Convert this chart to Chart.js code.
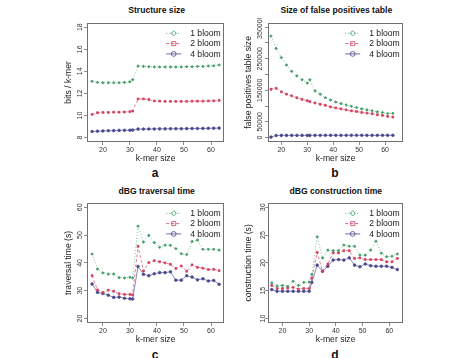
<!DOCTYPE html>
<html><head><meta charset="utf-8">
<script src="https://cdn.jsdelivr.net/npm/chart.js@4/dist/chart.umd.min.js"></script>
<style>
body{margin:0;background:#fff;width:475px;height:358px;overflow:hidden;position:relative;font-family:"Liberation Sans",Arial,sans-serif;}
canvas{position:absolute;}
.ttl{position:absolute;transform:translate(-50%,-50%);font-weight:bold;font-size:8.6px;white-space:nowrap;color:#111;line-height:1;}
.lt{position:absolute;transform:translate(-50%,-50%);font-weight:bold;font-size:12px;color:#111;line-height:1;}
</style></head><body>
<script>
// ---------------- data ----------------
const kmerSizes = [16,18,20,22,24,26,28,30,31,33,35,37,39,41,43,45,47,49,51,53,55,57,59,61,63];
const seriesNames = ['1 bloom','2 bloom','4 bloom'];
const xTickValues = [20,30,40,50,60];

const sizeBloom1 = [13.1,13.0,12.97,12.97,12.97,12.97,13.0,13.05,13.25,14.48,14.45,14.42,14.4,14.4,14.4,14.4,14.4,14.4,14.42,14.42,14.45,14.45,14.48,14.5,14.58];
const sizeBloom2 = [10.1,10.25,10.28,10.28,10.3,10.3,10.32,10.35,10.4,11.5,11.5,11.45,11.32,11.3,11.28,11.28,11.28,11.28,11.28,11.3,11.3,11.3,11.32,11.33,11.37];
const sizeBloom4 = [8.55,8.58,8.6,8.62,8.63,8.65,8.66,8.67,8.68,8.77,8.77,8.78,8.78,8.79,8.79,8.8,8.8,8.8,8.81,8.82,8.82,8.83,8.84,8.85,8.86];
const sizeTicks = [8,10,12,14,16,18];

const fpBloom1 = [322000,282700,253700,229900,210200,195700,183300,172900,183300,148100,137700,126300,119100,112900,107700,103500,99400,95300,91100,88000,84900,81800,79700,76500,77000];
const fpBloom2 = [153300,156400,145000,137700,132500,126300,121200,117000,113900,109800,105600,102500,97300,94200,91100,88000,84900,82800,79700,77700,75600,72500,70400,67300,65200];
const fpBloom4 = [1500,6500,7000,7000,7000,7000,7000,7000,7000,7200,7200,7200,7200,7200,7200,7200,7200,7200,7200,7200,7200,7200,7200,7200,7200];
const fpTicks = [0,50000,100000,150000,200000,250000,300000,350000];
const fpTickLabels = ['0','50000','','150000','','250000','','350000'];

const travBloom1 = [43.2,37.8,36.4,36.0,36.0,34.7,34.6,34.85,34.6,53.2,47.5,49.9,47.3,45.6,46.4,46.3,45.1,43.3,43.0,47.7,48.2,44.9,44.9,44.9,44.6];
const travBloom2 = [35.4,30.3,29.4,30.2,29.8,28.9,28.7,28.7,28.5,46.0,37.1,40.1,40.8,40.4,40.0,39.5,38.0,38.9,37.0,39.3,38.4,38.1,37.6,37.7,37.2];
const travBloom4 = [32.4,29.4,29.0,28.4,27.6,27.7,27.3,27.1,27.0,38.7,35.9,35.4,36.1,36.5,36.5,36.8,33.8,33.8,35.4,34.9,33.9,34.3,33.5,33.7,32.3];
const travTicks = [20,30,40,50,60];

const consBloom1 = [16.4,15.85,15.96,15.8,16.7,15.96,16.5,16.55,17.95,24.7,20.9,22.3,22.2,22.2,23.2,23.0,23.0,21.4,21.4,22.3,23.9,21.75,21.1,21.2,21.6];
const consBloom2 = [15.96,15.4,15.4,15.5,15.6,15.3,15.4,15.4,17.25,21.9,18.5,19.8,21.8,21.8,22.2,22.2,20.8,20.9,20.6,20.6,20.6,20.6,20.2,20.2,20.8];
const consBloom4 = [15.2,14.9,14.9,14.9,14.9,14.9,14.9,14.9,16.5,19.6,18.5,19.4,20.5,20.6,20.5,20.9,19.6,19.3,19.8,19.5,19.4,19.4,19.4,19.2,18.8];
const consTicks = [10,15,20,25,30];

// ---------------- styling / layout ----------------
const FONT = '"Liberation Sans", Arial, sans-serif';
const colors = ['#3f9a62','#d0405e','#484890'];
const lineColors = ['rgba(63,154,98,0.85)','rgba(208,64,94,0.85)','rgba(72,72,144,0.85)'];
const dashes = [[1,2],[3,2],[]];
const pStyles = ['rectRot','rect','circle'];

const panels = [
  {letter:'a', title:'Structure size', yTitle:'bits / k-mer', series:[sizeBloom1,sizeBloom2,sizeBloom4], yTicks:sizeTicks, yLabels:null, ylim:[8,18],
   box:{l:87,t:20,r:226,b:142}, xlim:[14.12,64.88], yGap:7.3, yTitleX:68.3, titlePos:[156.7,10], letterPos:[155,173]},
  {letter:'b', title:'Size of false positives table', yTitle:'false positives table size', series:[fpBloom1,fpBloom2,fpBloom4], yTicks:fpTicks, yLabels:fpTickLabels, ylim:[0,350000],
   box:{l:268,t:20,r:405,b:142}, xlim:[14.86,67.0], yGap:7.5, yTitleX:248.3, titlePos:[336.3,10], letterPos:[335,173]},
  {letter:'c', title:'dBG traversal time', yTitle:'traversal time (s)', series:[travBloom1,travBloom2,travBloom4], yTicks:travTicks, yLabels:null, ylim:[20,60],
   box:{l:87,t:200,r:226,b:323}, xlim:[14.12,64.88], yGap:7.3, yTitleX:68.3, titlePos:[156.7,191], letterPos:[155,355]},
  {letter:'d', title:'dBG construction time', yTitle:'construction time (s)', series:[consBloom1,consBloom2,consBloom4], yTicks:consTicks, yLabels:null, ylim:[10,30],
   box:{l:268,t:200,r:405,b:323}, xlim:[14.6,65.2], yGap:5, yTitleX:248.3, titlePos:[335.8,191], letterPos:[335,355]}
];

const measureCtx = document.createElement('canvas').getContext('2d');
function textW(s, size){ measureCtx.font = size + 'px ' + FONT; return measureCtx.measureText(s).width; }

function drawMarker(ctx, style, x, y, r){
  ctx.beginPath();
  if(style==='circle'){ ctx.arc(x,y,r,0,Math.PI*2); }
  else if(style==='rect'){ ctx.rect(x-r*0.85,y-r*0.85,r*1.7,r*1.7); }
  else { ctx.moveTo(x,y-r*1.1); ctx.lineTo(x+r*1.1,y); ctx.lineTo(x,y+r*1.1); ctx.lineTo(x-r*1.1,y); ctx.closePath(); }
  ctx.stroke();
}

const boxPlugin = {
  id:'rbox',
  afterDraw(chart){
    const {ctx, chartArea:a} = chart;
    ctx.save();
    ctx.strokeStyle = '#707070'; ctx.lineWidth = 1;
    ctx.strokeRect(Math.round(a.left)+0.5, Math.round(a.top)+0.5, Math.round(a.right-a.left)-1, Math.round(a.bottom-a.top)-1);
    ctx.restore();
  }
};

const legendPlugin = {
  id:'rlegend',
  afterDraw(chart){
    const {ctx, chartArea:a} = chart;
    chart.data.datasets.forEach((ds,i)=>{
      const y = a.top + 10.5 + i*10.3;
      const x0 = a.right - 58, x1 = a.right - 43;
      ctx.save();
      ctx.strokeStyle = ds.pointBorderColor; ctx.lineWidth = 0.8;
      ctx.setLineDash(ds.borderDash);
      ctx.beginPath(); ctx.moveTo(x0,y); ctx.lineTo(x1,y); ctx.stroke();
      ctx.setLineDash([]);
      drawMarker(ctx, ds.pointStyle, (x0+x1)/2, y, 2.4);
      ctx.fillStyle = '#1a1a1a';
      ctx.font = '8.6px ' + FONT;
      ctx.textAlign = 'left'; ctx.textBaseline = 'middle';
      ctx.fillText(ds.label, a.right - 34, y + 0.5);
      ctx.restore();
    });
  }
};

function addText(cls, txt, pos){
  const d = document.createElement('div');
  d.className = cls; d.textContent = txt;
  d.style.left = pos[0] + 'px'; d.style.top = pos[1] + 'px';
  document.body.appendChild(d);
}

function makePanel(p){
  const padTop = 2, yW = 35, xH = 22, padRight = 3;
  const left = p.box.l - yW, top = p.box.t - padTop;
  const w = yW + (p.box.r - p.box.l) + padRight;
  const h = padTop + (p.box.b - p.box.t) + xH;
  const cv = document.createElement('canvas');
  cv.width = w; cv.height = h;
  cv.style.left = left + 'px'; cv.style.top = top + 'px';
  cv.style.width = w + 'px'; cv.style.height = h + 'px';
  document.body.appendChild(cv);

  const ext = (p.ylim[1]-p.ylim[0])*0.04;
  const labels = p.yTicks.map((v,i)=> p.yLabels ? p.yLabels[i] : String(v));
  const widest = Math.max(...labels.map(s=>textW(s,7)));
  const tickPad = p.yGap - 3 - widest/2;
  const titleLH = 8.6*1.2;

  new Chart(cv, {
    type:'line',
    data:{
      datasets: p.series.map((s,i)=>({
        label: seriesNames[i],
        data: kmerSizes.map((k,j)=>({x:k, y:s[j]})),
        borderColor: lineColors[i], backgroundColor: colors[i],
        borderWidth: 0.75, borderDash: dashes[i],
        pointStyle: pStyles[i], pointRadius: 1.3, pointBorderWidth: 0.8,
        pointBackgroundColor: colors[i], pointBorderColor: colors[i],
        tension: 0, fill: false
      }))
    },
    options:{
      responsive:false, animation:false, devicePixelRatio:1,
      events:[],
      layout:{padding:{top:padTop, right:padRight, left:0, bottom:0}},
      plugins:{legend:{display:false}, tooltip:{enabled:false}, title:{display:false}},
      scales:{
        x:{
          type:'linear', min:p.xlim[0], max:p.xlim[1],
          afterBuildTicks: s=>{ s.ticks = xTickValues.map(v=>({value:v})); },
          afterFit: s=>{ s.height = xH; },
          grid:{drawOnChartArea:false, drawTicks:true, tickLength:3, color:'#707070', lineWidth:0.8},
          border:{display:false},
          ticks:{font:{size:7, family:FONT}, color:'#333', padding:0.5, maxRotation:0, autoSkip:false},
          title:{display:true, text:'k-mer size', font:{size:8.6, family:FONT}, color:'#1a1a1a', padding:{top:0, bottom:0}}
        },
        y:{
          type:'linear', min:p.ylim[0]-ext, max:p.ylim[1]+ext,
          afterBuildTicks: s=>{ s.ticks = p.yTicks.map(v=>({value:v})); },
          afterFit: s=>{ s.width = yW; },
          grid:{drawOnChartArea:false, drawTicks:true, tickLength:3, color:'#707070', lineWidth:0.8},
          border:{display:false},
          ticks:{font:{size:7, family:FONT}, color:'#333', minRotation:90, maxRotation:90, crossAlign:'center', autoSkip:false, padding:tickPad,
                 callback:(v)=>{ const i = p.yTicks.indexOf(v); return i>=0 ? labels[i] : ''; }},
          title:{display:true, text:p.yTitle, font:{size:8.6, family:FONT}, color:'#1a1a1a', padding:{top:(p.yTitleX-left)-titleLH/2, bottom:0}}
        }
      }
    },
    plugins:[boxPlugin, legendPlugin]
  });

  addText('ttl', p.title, p.titlePos);
  addText('lt', p.letter, p.letterPos);
}

panels.forEach(makePanel);
</script>
</body></html>
